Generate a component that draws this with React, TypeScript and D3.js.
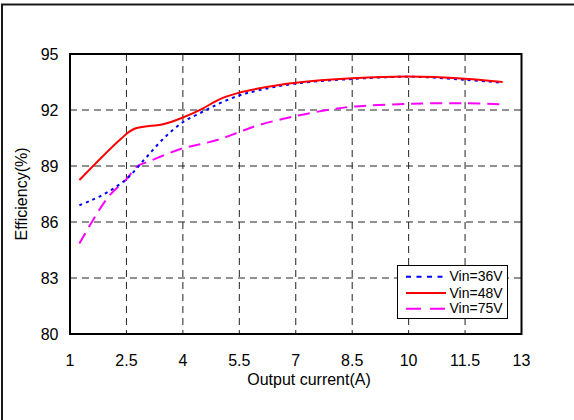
import React, { useEffect, useRef } from "react";
import * as d3 from "d3";

const xTicks = [1, 2.5, 4, 5.5, 7, 8.5, 10, 11.5, 13];
const yTicks = [80, 83, 86, 89, 92, 95];

const seriesNames = ["Vin=36V", "Vin=48V", "Vin=75V"];

const x36 = [1.25, 1.55, 2, 2.5, 3, 3.5, 4, 4.5, 5, 5.5, 6, 7, 8.5, 10, 11.5, 12.5];
const y36 = [86.9, 87.15, 87.6, 88.3, 89.4, 90.5, 91.35, 91.88, 92.38, 92.78, 93.05, 93.42, 93.66, 93.78, 93.62, 93.46];

const x48 = [1.25, 2.35, 2.7, 3.5, 4, 4.5, 5, 5.5, 6, 7, 8.5, 10, 11.5, 12.5];
const y48 = [88.25, 90.45, 90.98, 91.25, 91.6, 92.05, 92.6, 92.93, 93.15, 93.46, 93.7, 93.8, 93.68, 93.5];

const x75 = [1.25, 2, 2.5, 2.8, 3.1, 4, 4.5, 5, 5.5, 6, 7, 8, 8.5, 10, 11.5, 12.5];
const y75 = [84.85, 87.3, 88.3, 89.0, 89.25, 89.95, 90.18, 90.45, 90.82, 91.18, 91.68, 92.05, 92.18, 92.33, 92.36, 92.3];

const colors = ["#0000ff", "#ff0000", "#ff00ff"];
const dashes = ["3,4", null, "12,7"];
const legendDashes = ["5,5.5", null, "15,9"];

const FONT = "Arial, 'Liberation Sans', sans-serif";

export default function App() {
  const ref = useRef<SVGSVGElement>(null);

  useEffect(() => {
    const svg = d3.select(ref.current);
    svg.selectAll("*").remove();

    const left = 70, right = 521.5, top = 54, bottom = 334;
    const xs = d3.scaleLinear().domain([1, 13]).range([left, right]);
    const ys = d3.scaleLinear().domain([80, 95]).range([bottom, top]);

    // outer frame (only top/left visible)
    svg.append("rect")
      .attr("x", 2).attr("y", 4.5).attr("width", 700).attr("height", 700)
      .attr("fill", "none").attr("stroke", "#1a1a1a").attr("stroke-width", 2);

    const grid = svg.append("g");
    xTicks.slice(1, -1).forEach((t) => {
      grid.append("line")
        .attr("x1", xs(t)).attr("x2", xs(t)).attr("y1", top).attr("y2", bottom)
        .attr("stroke", "#222").attr("stroke-width", 1).attr("stroke-dasharray", "7,5");
    });
    yTicks.slice(1, -1).forEach((t) => {
      grid.append("line")
        .attr("x1", left).attr("x2", right).attr("y1", ys(t)).attr("y2", ys(t))
        .attr("stroke", "#222").attr("stroke-width", 1).attr("stroke-dasharray", "7,5");
    });

    const line = d3.line<[number, number]>()
      .x((d) => xs(d[0]))
      .y((d) => ys(d[1]))
      .curve(d3.curveCatmullRom.alpha(0.5));

    const data: [number, number][][] = [
      x36.map((v, i) => [v, y36[i]] as [number, number]),
      x48.map((v, i) => [v, y48[i]] as [number, number]),
      x75.map((v, i) => [v, y75[i]] as [number, number]),
    ];

    const order = [2, 0, 1];
    order.forEach((k) => {
      const p = svg.append("path")
        .attr("d", line(data[k]) as string)
        .attr("fill", "none")
        .attr("stroke", colors[k])
        .attr("stroke-width", 2);
      if (dashes[k]) p.attr("stroke-dasharray", dashes[k] as string);
    });

    // plot frame
    svg.append("rect")
      .attr("x", left).attr("y", top).attr("width", right - left).attr("height", bottom - top)
      .attr("fill", "none").attr("stroke", "#000").attr("stroke-width", 2);

    // tick labels
    xTicks.forEach((t) => {
      svg.append("text")
        .attr("x", xs(t)).attr("y", 366)
        .attr("text-anchor", "middle")
        .attr("font-family", FONT).attr("font-size", 16).attr("fill", "#000")
        .text(String(t));
    });
    yTicks.forEach((t) => {
      svg.append("text")
        .attr("x", 58.5).attr("y", ys(t) + 6)
        .attr("text-anchor", "end")
        .attr("font-family", FONT).attr("font-size", 16).attr("fill", "#000")
        .text(String(t));
    });

    svg.append("text")
      .attr("x", 309).attr("y", 385)
      .attr("text-anchor", "middle")
      .attr("font-family", FONT).attr("font-size", 16).attr("fill", "#000")
      .text("Output current(A)");

    svg.append("text")
      .attr("transform", `translate(26.5, ${(top + bottom) / 2}) rotate(-90)`)
      .attr("text-anchor", "middle")
      .attr("font-family", FONT).attr("font-size", 16).attr("fill", "#000")
      .text("Efficiency(%)");

    // legend
    const lg = svg.append("g");
    lg.append("rect")
      .attr("x", 397.5).attr("y", 265.5).attr("width", 110).attr("height", 53)
      .attr("fill", "#fff").attr("stroke", "#000").attr("stroke-width", 1);
    const ly = [276.7, 293, 308.8];
    seriesNames.forEach((name, k) => {
      const l = lg.append("line")
        .attr("x1", 406).attr("x2", 446).attr("y1", ly[k]).attr("y2", ly[k])
        .attr("stroke", colors[k]).attr("stroke-width", 2);
      if (legendDashes[k]) l.attr("stroke-dasharray", legendDashes[k] as string);
      lg.append("text")
        .attr("x", 449.5).attr("y", ly[k] + 4.5)
        .attr("font-family", FONT).attr("font-size", 14).attr("fill", "#000")
        .text(name);
    });
  }, []);

  return (
    <svg
      ref={ref}
      width={574}
      height={420}
      style={{ position: "fixed", top: 0, left: 0, background: "#fff" }}
    />
  );
}
